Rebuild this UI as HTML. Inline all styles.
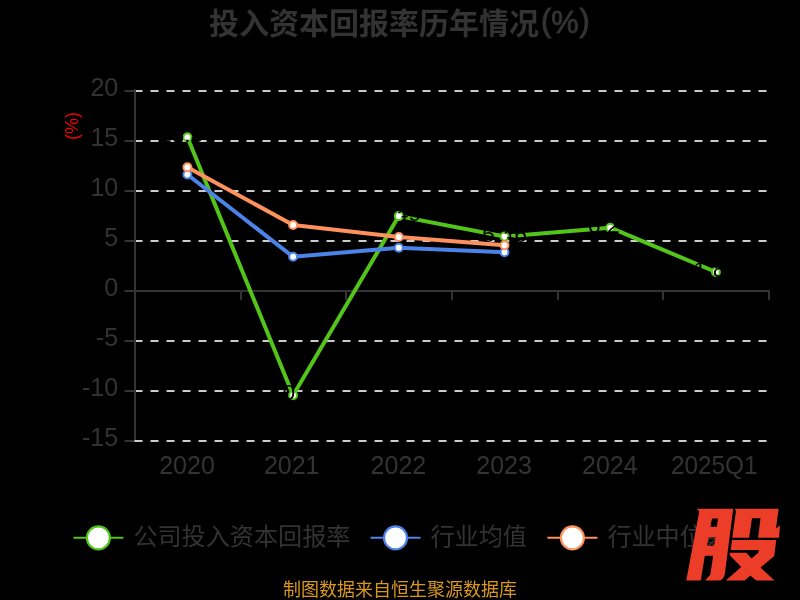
<!DOCTYPE html>
<html lang="zh"><head><meta charset="utf-8"><title>投入资本回报率历年情况(%)</title>
<style>
html,body{margin:0;padding:0;background:#000;}
body{width:800px;height:600px;overflow:hidden;font-family:"Liberation Sans",sans-serif;}
svg{display:block;will-change:transform;font-family:"Liberation Sans",sans-serif;}
.ax{fill:#333333;font-size:25px;}
.hid{fill:#000;fill-opacity:0;font-size:2px;}
.dl{fill:#000;font-size:22px;}
.cjk{font-family:"Liberation Sans","Noto Sans CJK SC",sans-serif;}
</style></head><body>
<svg width="800" height="600" viewBox="0 0 800 600">
<rect x="0" y="0" width="800" height="600" fill="#000"/>
<g id="title">
<text class="cjk" x="209" y="33.5" font-size="30" font-weight="bold" fill="#333333" textLength="330" lengthAdjust="spacingAndGlyphs">投入资本回报率历年情况</text>
<g font-size="30.5" fill="#333333" stroke="#333333" stroke-width="0.9"><text x="540.9" y="31.4">(</text><text x="551.2" y="32.8" font-size="31.5" textLength="27.4" lengthAdjust="spacingAndGlyphs">%</text><text x="579.6" y="31.4">)</text></g>
</g>
<g id="grid" stroke="#cccccc" stroke-width="2" stroke-dasharray="8 8" fill="none">
<path d="M134.5 91 H769.5"/>
<path d="M134.5 141 H769.5"/>
<path d="M134.5 191 H769.5"/>
<path d="M134.5 241 H769.5"/>
<path d="M134.5 341 H769.5"/>
<path d="M134.5 391 H769.5"/>
</g>
<g id="axes" stroke="#333333" stroke-width="2" fill="none">
<path d="M135 89 V442"/>
<path d="M134 291 H770"/>
<path d="M124.5 91 H135"/>
<path d="M124.5 141 H135"/>
<path d="M124.5 191 H135"/>
<path d="M124.5 241 H135"/>
<path d="M124.5 291 H135"/>
<path d="M124.5 341 H135"/>
<path d="M124.5 391 H135"/>
<path d="M124.5 441 H135"/>
<path d="M241 291 V300"/>
<path d="M346 291 V300"/>
<path d="M452 291 V300"/>
<path d="M558 291 V300"/>
<path d="M663 291 V300"/>
<path d="M769 291 V300"/>
</g>
<g id="grid-bottom" stroke="#cccccc" stroke-width="2" stroke-dasharray="8 8" fill="none">
<path d="M134.5 441 H769.5"/>
</g>
<g id="ylabels" class="ax" text-anchor="end">
<text x="118.2" y="96">20</text>
<text x="118.2" y="146">15</text>
<text x="118.2" y="196">10</text>
<text x="118.2" y="246">5</text>
<text x="118.2" y="296">0</text>
<text x="118.2" y="346">-5</text>
<text x="118.2" y="396">-10</text>
<text x="118.2" y="446">-15</text>
</g>
<g id="xlabels" class="ax" text-anchor="middle">
<text x="187" y="474">2020</text>
<text x="291.7" y="474">2021</text>
<text x="398.4" y="474">2022</text>
<text x="504.1" y="474">2023</text>
<text x="609.8" y="474">2024</text>
<text x="714.3" y="474" textLength="86.5" lengthAdjust="spacingAndGlyphs">2025Q1</text>
</g>
<text id="yname" transform="translate(77.6 126) rotate(-90)" text-anchor="middle" font-size="18" fill="#f00000">(%)</text>
<g id="s-company">
<polyline fill="none" stroke="#52c41a" stroke-width="4" stroke-linejoin="bevel" points="187.4,137.3 293.1,395.2 398.8,216.1 504.5,236.5 610.2,227.7 715.9,272"/>
<circle cx="187.4" cy="137.3" r="4" fill="#fff" stroke="#52c41a" stroke-width="2"/>
<circle cx="293.1" cy="395.2" r="4" fill="#fff" stroke="#52c41a" stroke-width="2"/>
<circle cx="398.8" cy="216.1" r="4" fill="#fff" stroke="#52c41a" stroke-width="2"/>
<circle cx="504.5" cy="236.5" r="4" fill="#fff" stroke="#52c41a" stroke-width="2"/>
<circle cx="610.2" cy="227.7" r="4" fill="#fff" stroke="#52c41a" stroke-width="2"/>
<circle cx="715.9" cy="272" r="4" fill="#fff" stroke="#52c41a" stroke-width="2"/>
</g>
<g id="s-mean">
<polyline fill="none" stroke="#4b83e8" stroke-width="4" stroke-linejoin="bevel" points="187.4,174.5 293.1,256.8 398.8,247.7 504.5,252.3"/>
<circle cx="187.4" cy="174.5" r="4" fill="#fff" stroke="#4b83e8" stroke-width="2"/>
<circle cx="293.1" cy="256.8" r="4" fill="#fff" stroke="#4b83e8" stroke-width="2"/>
<circle cx="398.8" cy="247.7" r="4" fill="#fff" stroke="#4b83e8" stroke-width="2"/>
<circle cx="504.5" cy="252.3" r="4" fill="#fff" stroke="#4b83e8" stroke-width="2"/>
</g>
<g id="s-median">
<polyline fill="none" stroke="#ff915c" stroke-width="4" stroke-linejoin="bevel" points="187.4,167.2 293.1,225 398.8,237 504.5,245.3"/>
<circle cx="187.4" cy="167.2" r="4" fill="#fff" stroke="#ff915c" stroke-width="2"/>
<circle cx="293.1" cy="225" r="4" fill="#fff" stroke="#ff915c" stroke-width="2"/>
<circle cx="398.8" cy="237" r="4" fill="#fff" stroke="#ff915c" stroke-width="2"/>
<circle cx="504.5" cy="245.3" r="4" fill="#fff" stroke="#ff915c" stroke-width="2"/>
</g>
<g id="datalabels" class="dl" text-anchor="middle">
<text x="187.4" y="142.3" textLength="57" lengthAdjust="spacingAndGlyphs">15.37</text>
<text x="294.6" y="400.2" textLength="65" lengthAdjust="spacingAndGlyphs">-10.42</text>
<text x="398.8" y="221.1" textLength="45" lengthAdjust="spacingAndGlyphs">7.49</text>
<text x="504.5" y="241.5" textLength="45" lengthAdjust="spacingAndGlyphs">5.46</text>
<text x="610.2" y="232.7" textLength="45" lengthAdjust="spacingAndGlyphs">6.24</text>
<text x="715.9" y="277" textLength="45" lengthAdjust="spacingAndGlyphs">1.88</text>
</g>
<g id="marker-centres" fill="#fff">
<circle cx="398.8" cy="216.1" r="2.9"/>
<circle cx="504.5" cy="236.5" r="2.9"/>
</g>
<g class="legend">
<path d="M73.4 537.8 H123.4" stroke="#52c41a" stroke-width="2" fill="none"/>
<circle cx="98.4" cy="537.8" r="11.5" fill="#fff" stroke="#52c41a" stroke-width="2.2"/>
<text class="cjk" x="133.4" y="544.5" font-size="24" fill="#333333" textLength="217" lengthAdjust="spacingAndGlyphs">公司投入资本回报率</text>
</g>
<g class="legend">
<path d="M370.5 537.8 H420.5" stroke="#4b83e8" stroke-width="2" fill="none"/>
<circle cx="395.5" cy="537.8" r="11.5" fill="#fff" stroke="#4b83e8" stroke-width="2.2"/>
<text class="cjk" x="430.5" y="544.5" font-size="24" fill="#333333" textLength="96.5" lengthAdjust="spacingAndGlyphs">行业均值</text>
</g>
<g class="legend">
<path d="M547.4 537.8 H597.4" stroke="#ff915c" stroke-width="2" fill="none"/>
<circle cx="572.4" cy="537.8" r="11.5" fill="#fff" stroke="#ff915c" stroke-width="2.2"/>
<text class="cjk" x="607.4" y="544.5" font-size="24" fill="#333333" textLength="120.5" lengthAdjust="spacingAndGlyphs">行业中位数</text>
</g>
<g id="source">
<text class="cjk" x="400" y="596" font-size="18" fill="#d8981f" text-anchor="middle" textLength="234" lengthAdjust="spacingAndGlyphs">制图数据来自恒生聚源数据库</text></g>
<g id="logo" fill="#eb3d28">
<path fill-rule="evenodd" d="M696.75 508.7 L733.2 508.7 L725.1 572 C724.4 577.5 722.5 580.5 718.5 580.5 L705 580.5 L710.25 574.75 L713.2 555.75 L704.8 555.75 L700.75 580.5 L686.25 580.5 L699.25 511.5 Z M712 518.5 L718 518.5 L716.75 527 L710.25 527 Z M708.5 537.25 L715.5 537.25 L714 545.75 L707 545.75 Z"/>
<path d="M735 508.7 L778.6 508.7 L776 528.5 L780 525.5 L779 537.75 L758.1 537.75 L760.5 518.25 L752 518.25 L749.1 537.75 L732.25 537.75 L735.9 511.5 Z"/>
<path d="M732 540 L776.25 540 L774.25 556 L760.5 567.5 L774.5 580.5 L756.25 580.5 L750.3 575.4 L744.6 580.5 L725.75 580.5 L741.25 567 L729.75 555.3 L730 552.75 L746.3 552.75 L751.5 558.6 L758.5 552.5 L758.75 550 L730.75 550 Z"/>
<text class="hid" x="740" y="560" text-anchor="middle">股</text>
</g>
</svg>
</body></html>
